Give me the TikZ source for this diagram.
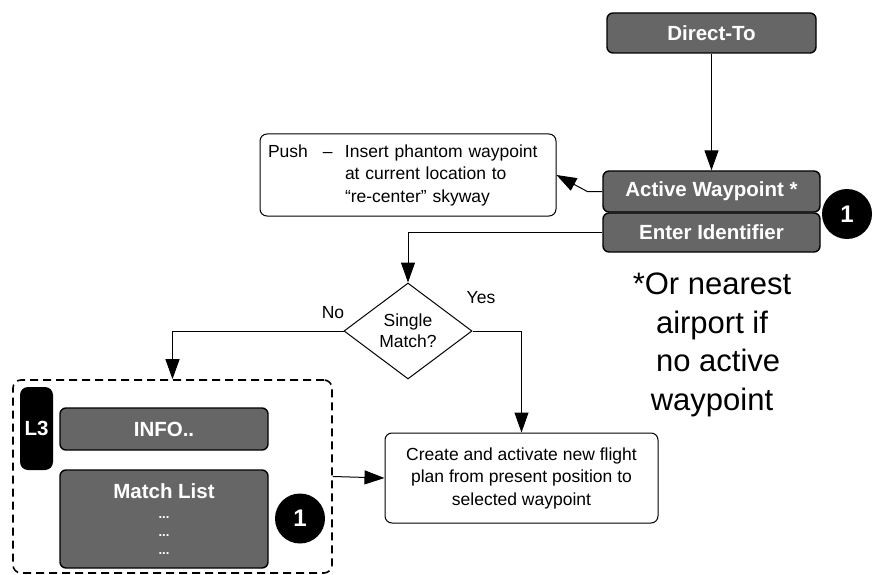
\documentclass[tikz,border=0pt]{standalone}
\usepackage{fontspec}
\setmainfont{Liberation Sans}
\usetikzlibrary{arrows.meta,shapes.geometric}
\definecolor{keygrey}{HTML}{666666}

\begin{document}
\begin{tikzpicture}[x=1pt, y=-1pt, line width=1pt, >={Triangle[length=20pt,width=14pt]},
	keybox/.style={draw=black, line width=1.4pt, fill=keygrey, rounded corners=6pt, text=white, inner sep=0pt, font=\bfseries\fontsize{20.5}{24}\selectfont},
	infobox/.style={draw=black, fill=white, rounded corners=7pt, inner sep=0pt, font=\fontsize{17.5}{22.5}\selectfont},
	badge/.style={circle, fill=black, text=white, minimum size=50pt, inner sep=0pt, font=\bfseries\fontsize{24}{28}\selectfont},
	lbl/.style={font=\fontsize{17.5}{21}\selectfont}]
	\useasboundingbox (0,0) rectangle (873,575);
	% keys on the right
	\node[keybox, minimum width=209pt, minimum height=40pt] (direct) at (711.5,33) {Direct-To};
	\node[keybox, minimum width=217pt, minimum height=41pt] (active) at (711.5,191.5) {Active Waypoint *};
	\node[keybox, minimum width=217pt, minimum height=39pt] (enter) at (711.5,232.5) {Enter Identifier};
	\node[badge] (badgetop) at (847,214) {1};
	\node[infobox, minimum width=296pt, minimum height=82pt, text width=280pt, align=left] (push) at (408,175)
		{\makebox[77pt][l]{Push\hspace{15pt}–}Insert phantom waypoint\\\hspace*{77pt}at current location to\\\hspace*{77pt}“re-center” skyway};
	\node[draw, diamond, minimum width=128pt, minimum height=96pt, inner sep=0pt, align=center, lbl] (match) at (408,331) {Single\\Match?};
	\node[lbl] (yes) at (481,298) {Yes};
	\node[lbl] (no) at (333,313) {No};
	\node[infobox, minimum width=273pt, minimum height=90pt, align=center] (create) at (521.5,478)
		{Create and activate new flight\\plan from present position to\\selected waypoint};
	\node[align=center, font=\fontsize{31}{38.5}\selectfont] (footnote) at (712,345)
		{*Or nearest\\airport if\\\hspace*{0.4em}no active\\waypoint};
	% match list group
	\node[draw, dash pattern=on 8pt off 5pt, line width=1.6pt, rounded corners=8pt, minimum width=319pt, minimum height=193pt] (matchgroup) at (172.5,476.5) {};
	\node[fill=black, rounded corners=8pt, minimum width=33pt, minimum height=83pt, inner sep=0pt, text=white, font=\bfseries\fontsize{20.5}{24}\selectfont] (lthree) at (36.5,428.5) {L3};
	\node[keybox, minimum width=208pt, minimum height=42pt] (info) at (164,429) {INFO..};
	\node[keybox, minimum width=208pt, minimum height=98pt, align=center] (matchlist) at (164,519)
		{Match List\\[-4pt]{\fontsize{13}{17}\selectfont ...}\\[-6pt]{\fontsize{13}{17}\selectfont ...}\\[-6pt]{\fontsize{13}{17}\selectfont ...}};
	\node[badge] (badgebot) at (300,518.5) {1};
	% connectors
	\draw[->] (direct) -- (active);
	\draw[->] (active.west) -- ++(-15,0) -- (push.east);
	\draw[->] (enter.west) -| (match.north);
	\draw[->] (match.east) -| (create.north);
	\draw[->] (match.west) -| (matchgroup.north);
	\draw[->] (matchgroup.east) -- (create.west);
\end{tikzpicture}
\end{document}
